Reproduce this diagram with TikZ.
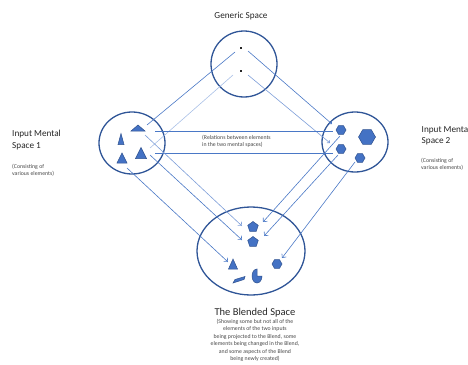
\documentclass[tikz,border=0pt]{standalone}
\usepackage{fontspec}
\setmainfont{Carlito}
\usetikzlibrary{arrows.meta,shapes.geometric}

\definecolor{ring}{HTML}{2F5597}
\definecolor{fillblue}{HTML}{4472C4}
\definecolor{edgeblue}{HTML}{2F528F}
\definecolor{link}{HTML}{4A78C6}
\definecolor{linkpale}{HTML}{A9C0E6}
\definecolor{linkmid}{HTML}{7C9DD8}
\definecolor{txt}{HTML}{262626}

\begin{document}
\begin{tikzpicture}[x=1pt,y=-1pt,
  space/.style={draw=ring, line width=1.3pt},
  elem/.style={fill=fillblue, draw=edgeblue, line width=0.5pt},
  hexa/.style={elem, regular polygon, regular polygon sides=6, minimum size=#1, inner sep=0pt},
  penta/.style={elem, regular polygon, regular polygon sides=5, minimum size=#1, inner sep=0pt},
  dotmark/.style={fill=txt, minimum size=1.4pt, inner sep=0pt},
  link/.style={draw=link, line width=0.6pt},
  relation/.style={draw=link, line width=0.8pt},
  project/.style={link, -{Straight Barb[length=3pt,width=5.5pt]}},
  title/.style={font=\fontsize{9.2}{11}\selectfont, text=txt, inner sep=0pt},
  bigtitle/.style={font=\fontsize{10.5}{12}\selectfont, text=txt, inner sep=0pt},
  note/.style={font=\fontsize{5.8}{7.5}\selectfont, text=txt!85, inner sep=0pt},
]
\useasboundingbox (0,0) rectangle (468,364);

% ---- the four spaces ----
\draw[space] (244,64) ellipse [x radius=33, y radius=33];
\draw[space] (132,143) ellipse [x radius=33, y radius=31];
\draw[space] (355,142) ellipse [x radius=33, y radius=30];
\draw[space] (251,251) ellipse [x radius=54, y radius=44];

% ---- generic space contents ----
\node[dotmark] (gd1) at (241,48) {};
\node[dotmark] (gd2) at (241,71) {};

% ---- input space 1: triangles ----
\coordinate (t1) at (138,128);
\coordinate (t2) at (121,139);
\coordinate (t3) at (122,158);
\coordinate (t4) at (141,153);
\filldraw[elem] (t1) +(0,-3) -- +(7,3) -- +(-7,3) -- cycle;
\filldraw[elem] (t2) +(0,-5.5) -- +(3,5.5) -- +(-3,5.5) -- cycle;
\filldraw[elem] (t3) +(0,-5) -- +(5,5) -- +(-5,5) -- cycle;
\filldraw[elem] (t4) +(0,-5.5) -- +(5.5,5.5) -- +(-5.5,5.5) -- cycle;

% ---- input space 2: hexagons ----
\node[hexa=10pt] (h1) at (341,130) {};
\node[hexa=17pt] (h2) at (367,137) {};
\node[hexa=10pt] (h3) at (341,149) {};
\node[hexa=10pt] (h4) at (360,158) {};

% ---- blended space contents ----
\node[penta=11pt] (p1) at (253,227) {};
\node[penta=11pt] (p2) at (253,242) {};
\node[hexa=10pt] (hb) at (277,264) {};
\coordinate (tb) at (233,264);
\filldraw[elem] (tb) +(0,-5) -- +(4.5,5) -- +(-4.5,5) -- cycle;
\coordinate (pie) at (257,276);
\filldraw[elem] (pie) -- ++(0,-7) arc[start angle=270, end angle=0, x radius=5, y radius=7] -- cycle;
\coordinate (sl) at (239,280);
\filldraw[elem] (sl) +(-6,3) -- +(-4,-0.5) -- +(6,-3.5) -- +(5,-0.5) -- cycle;

% ---- counterpart links through the generic space ----
\coordinate (g1a) at (147,125); \coordinate (g1b) at (235,52);
\coordinate (g2a) at (150,148); \coordinate (g2b) at (233,75);
\coordinate (g3a) at (248,51);  \coordinate (g3b) at (332,124);
\coordinate (g4a) at (248,75);  \coordinate (g4b) at (330,143);
\draw[link] (g1a) -- (g1b);
\draw[link, draw=linkpale] (g2a) -- (g2b);
\draw[link, -{Straight Barb[length=2pt,width=3.5pt]}] (g3a) -- (g3b);
\draw[link, draw=linkmid, -{Straight Barb[length=2pt,width=3.5pt]}] (g4a) -- (g4b);

% ---- relations between the two inputs ----
\coordinate (r1a) at (155,131); \coordinate (r1b) at (333,131);
\coordinate (r2a) at (155,153); \coordinate (r2b) at (333,153);
\draw[relation] (r1a) -- (r1b);
\draw[relation] (r2a) -- (r2b);

% ---- projections into the blend ----
\coordinate (l1a) at (145,135); \coordinate (l1b) at (242,226);
\coordinate (l2a) at (150,155); \coordinate (l2b) at (242,240);
\coordinate (l3a) at (127,168); \coordinate (l3b) at (228,262);
\coordinate (k1a) at (340,136); \coordinate (k1b) at (263,222);
\coordinate (k2a) at (338,155); \coordinate (k2b) at (264,236);
\coordinate (k3a) at (355,162); \coordinate (k3b) at (282,258);
\draw[project, draw=linkmid] (l1a) -- (l1b);
\draw[project] (l2a) -- (l2b);
\draw[project] (l3a) -- (l3b);
\draw[project] (k1a) -- (k1b);
\draw[project] (k2a) -- (k2b);
\draw[project] (k3a) -- (k3b);

% ---- labels ----
\node[title, anchor=base] (lg) at (241,18) {Generic Space};

\node[title, anchor=base west] (li1a) at (12,136.3) {Input Mental};
\node[title, anchor=base west] (li1b) at (12,148) {Space 1};
\node[note, anchor=base west] (ci1a) at (12,168) {(Consisting of};
\node[note, anchor=base west] (ci1b) at (12,175.5) {various elements)};

% the right-hand label runs past the page edge
\node[title, anchor=base west] (li2a) at (421.5,132) {Input Mental};
\node[title, anchor=base west] (li2b) at (421.5,143.7) {Space 2};
\node[note, anchor=base west] (ci2a) at (421,162) {(Consisting of};
\node[note, anchor=base west] (ci2b) at (421,169.5) {various elements)};

\node[note, anchor=base west] (rel1) at (202,139) {(Relations between elements};
\node[note, anchor=base west] (rel2) at (202,146.5) {in the two mental spaces)};

\node[bigtitle, anchor=base] (lb) at (255,315) {The Blended Space};
\node[note, anchor=base] (bn1) at (255,323) {(Showing some but not all of the};
\node[note, anchor=base] (bn2) at (255,330.3) {elements of the two inputs};
\node[note, anchor=base] (bn3) at (255,338) {being projected to the Blend, some};
\node[note, anchor=base] (bn4) at (255,345.6) {elements being changed in the Blend,};
\node[note, anchor=base] (bn5) at (255,353) {and some aspects of the Blend};
\node[note, anchor=base] (bn6) at (255,360.3) {being newly created)};
\end{tikzpicture}
\end{document}
